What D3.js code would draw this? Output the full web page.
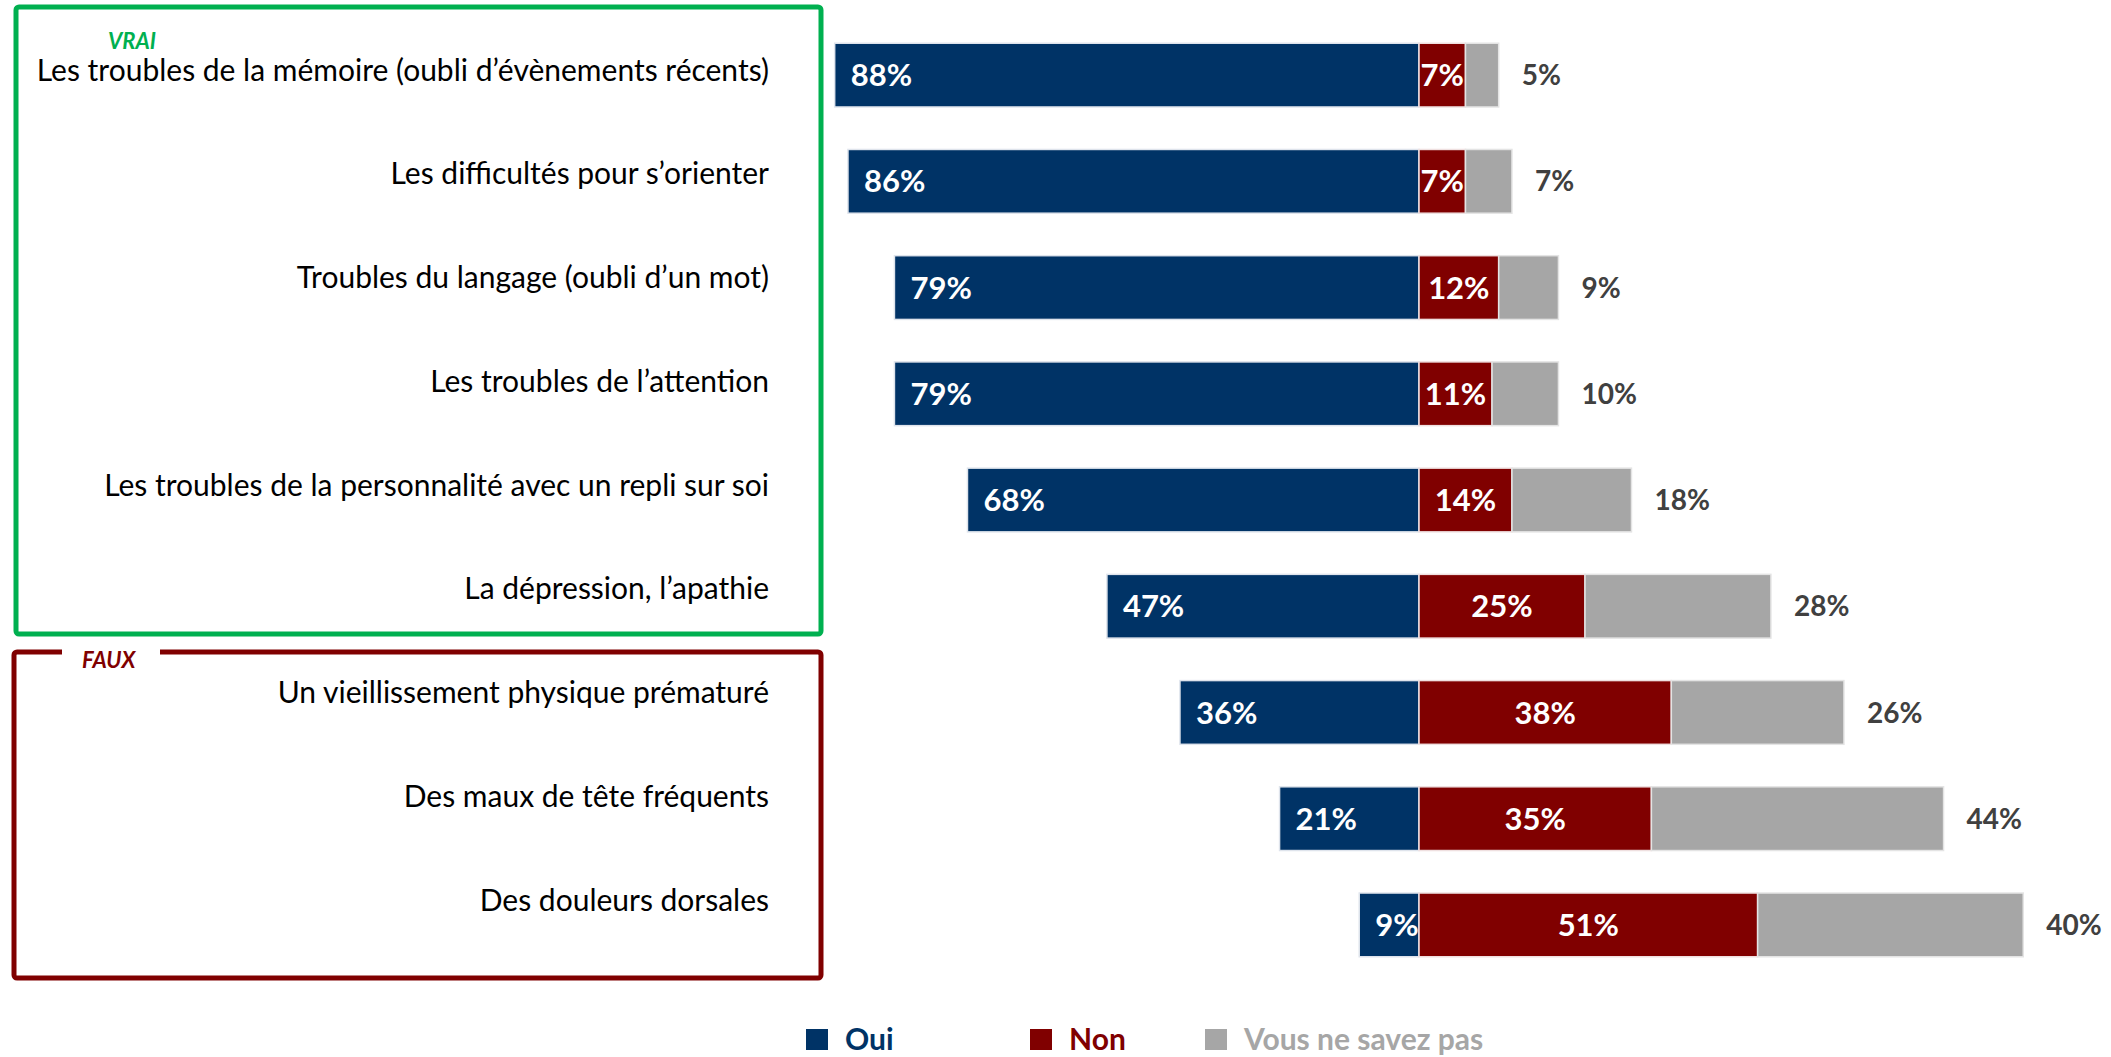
<!DOCTYPE html>
<html>
<head>
<meta charset="utf-8">
<script src="https://cdn.jsdelivr.net/npm/d3@7"></script>
<style>
  body { margin: 0; background: #fff; }
  text { font-family: Lato, "Open Sans", sans-serif; }
</style>
</head>
<body>
<svg class="chart" width="2111" height="1057"></svg>
<script>
// data
const categories = [
  "Les troubles de la mémoire (oubli d’évènements récents)",
  "Les difficultés pour s’orienter",
  "Troubles du langage (oubli d’un mot)",
  "Les troubles de l’attention",
  "Les troubles de la personnalité avec un repli sur soi",
  "La dépression, l’apathie",
  "Un vieillissement physique prématuré",
  "Des maux de tête fréquents",
  "Des douleurs dorsales"
];
const oui = [88, 86, 79, 79, 68, 47, 36, 21, 9];
const non = [7, 7, 12, 11, 14, 25, 38, 35, 51];
const nsp = [5, 7, 9, 10, 18, 28, 26, 44, 40];
const legendLabels = ["Oui", "Non", "Vous ne savez pas"];

const colors = { oui: "#003366", non: "#800000", nsp: "#a6a6a6" };

const svg = d3.select(".chart");

const data = categories.map((c, i) => ({ cat: c, oui: oui[i], non: non[i], nsp: nsp[i] }));

const xScale = d3.scaleLinear()
  .domain([-100, 100])
  .range([755, 2083]);

const yScale = d3.scaleBand()
  .domain(categories)
  .range([22, 978])
  .paddingInner(0.4)
  .paddingOuter(0.2);

// labels sit slightly tighter than the bars
const labelY = d3.scalePoint()
  .domain(categories)
  .range([70, 900]);

// VRAI / FAUX frames
svg.append("rect")
  .attr("x", 16).attr("y", 7)
  .attr("width", 805).attr("height", 627)
  .attr("rx", 3)
  .attr("fill", "none")
  .attr("stroke", "#00b050")
  .attr("stroke-width", 5);

svg.append("rect")
  .attr("x", 14).attr("y", 652)
  .attr("width", 807).attr("height", 326)
  .attr("rx", 3)
  .attr("fill", "none")
  .attr("stroke", "#800000")
  .attr("stroke-width", 5);

// gap in the red frame for the FAUX title
svg.append("rect")
  .attr("x", 62).attr("y", 646)
  .attr("width", 98).attr("height", 12)
  .attr("fill", "#fff");

svg.append("text")
  .attr("x", 108).attr("y", 49)
  .attr("fill", "#00b050")
  .attr("font-size", 22)
  .attr("font-weight", "bold")
  .attr("font-style", "italic")
  .text("VRAI");

svg.append("text")
  .attr("x", 82).attr("y", 668)
  .attr("fill", "#800000")
  .attr("font-size", 22)
  .attr("font-weight", "bold")
  .attr("font-style", "italic")
  .text("FAUX");

// category labels
svg.append("g")
  .selectAll("text")
  .data(categories)
  .enter()
  .append("text")
    .attr("x", 769)
    .attr("y", d => labelY(d))
    .attr("dy", "0.35em")
    .attr("text-anchor", "end")
    .attr("font-size", 30)
    .attr("fill", "#000")
    .text(d => d);

const bars = svg.append("g");

const row = bars.selectAll("g")
  .data(data)
  .enter()
  .append("g")
    .attr("transform", d => `translate(0, ${yScale(d.cat)})`);

const h = yScale.bandwidth();

row.append("rect")
  .attr("x", d => xScale(-d.oui))
  .attr("width", d => xScale(0) - xScale(-d.oui))
  .attr("height", h)
  .attr("fill", colors.oui)
  .attr("stroke", "#dfe4ec")
  .attr("stroke-width", 1.5);

row.append("rect")
  .attr("x", xScale(0))
  .attr("width", d => xScale(d.non) - xScale(0))
  .attr("height", h)
  .attr("fill", colors.non)
  .attr("stroke", "#efe0e0")
  .attr("stroke-width", 1.5);

row.append("rect")
  .attr("x", d => xScale(d.non))
  .attr("width", d => xScale(d.non + d.nsp) - xScale(d.non))
  .attr("height", h)
  .attr("fill", colors.nsp)
  .attr("stroke", "#e4e4e4")
  .attr("stroke-width", 1.5);

row.append("text")
  .attr("x", d => xScale(-d.oui) + 16)
  .attr("y", h / 2)
  .attr("dy", "0.36em")
  .attr("fill", "#fff")
  .attr("font-size", 31)
  .attr("font-weight", "bold")
  .text(d => d.oui + "%");

row.append("text")
  .attr("x", d => (xScale(0) + xScale(d.non)) / 2)
  .attr("y", h / 2)
  .attr("dy", "0.36em")
  .attr("text-anchor", "middle")
  .attr("fill", "#fff")
  .attr("font-size", 31)
  .attr("font-weight", "bold")
  .text(d => d.non + "%");

row.append("text")
  .attr("x", d => xScale(d.non + d.nsp) + 23)
  .attr("y", h / 2)
  .attr("dy", "0.36em")
  .attr("fill", "#404040")
  .attr("font-size", 28)
  .attr("font-weight", "bold")
  .text(d => d.nsp + "%");

// legend
const legendX = [806, 1030, 1205];
const legendColors = [colors.oui, colors.non, colors.nsp];

const legend = svg.append("g")
  .selectAll("g")
  .data(legendLabels)
  .enter()
  .append("g")
    .attr("transform", (d, i) => `translate(${legendX[i]}, 1029)`);

legend.append("rect")
  .attr("width", 22)
  .attr("height", 21)
  .attr("fill", (d, i) => legendColors[i]);

legend.append("text")
  .attr("x", 39)
  .attr("y", 21)
  .attr("font-size", 30)
  .attr("font-weight", "bold")
  .attr("fill", (d, i) => legendColors[i])
  .text(d => d);
</script>
</body>
</html>
